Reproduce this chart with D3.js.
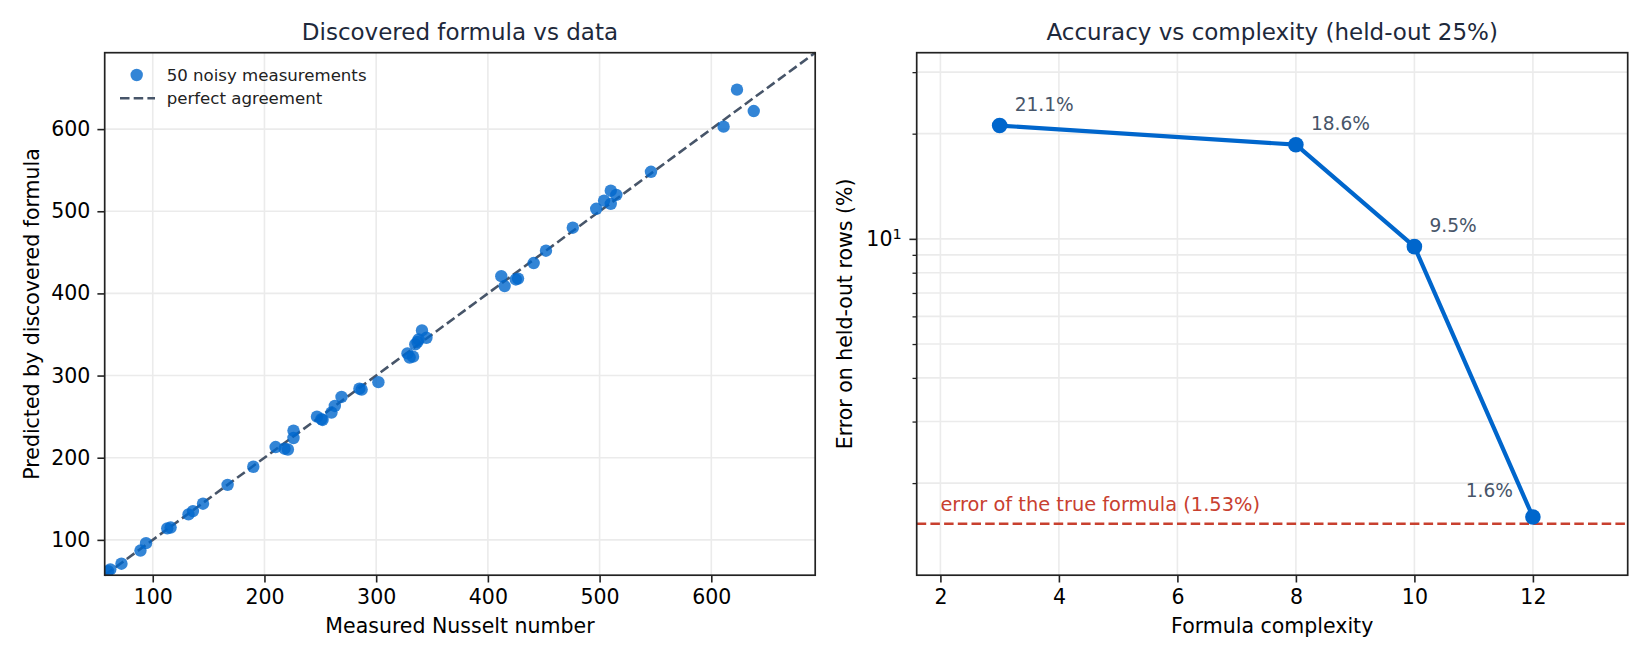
<!DOCTYPE html>
<html>
<head>
<meta charset="utf-8">
<script src="https://cdn.jsdelivr.net/npm/d3@7"></script>
<style>
  body { margin: 0; background: #fff; }
  text { font-family: "DejaVu Sans", sans-serif; }
</style>
</head>
<body>
<div id="chart"></div>
<script>
// left panel: measured vs predicted Nusselt number
var measured = [60, 62, 72, 89, 94, 113, 116, 132, 136, 145, 167, 190, 210, 218, 221, 226, 226,
  247, 251, 252, 260, 263, 269, 285, 287, 302, 328, 330, 333, 335, 337, 338, 341, 345,
  412, 415, 425, 427, 441, 452, 476, 497, 504, 510, 510, 515, 546, 611, 623, 638];
var predicted = [62, 64, 71, 87, 96, 114, 115, 131, 135, 144, 167, 189, 213, 211, 210, 233, 224,
  250, 247, 246, 255, 263, 274, 284, 283, 292, 327, 322, 323, 338, 341, 344, 355, 346,
  421, 409, 417, 418, 437, 452, 480, 503, 513, 525, 509, 520, 548, 603, 648, 622];
var scatterTicks = [100, 200, 300, 400, 500, 600];
var scatterRange = [57, 693];

// right panel: held-out error vs formula complexity
var complexity = [3, 8, 10, 12];
var heldOutError = [21.1, 18.6, 9.5, 1.6];
var trueError = 1.53;
var complexityTicks = [2, 4, 6, 8, 10, 12];
var complexityRange = [1.6, 13.6];
var errorRange = [1.09, 34.1];
var errorMinorTicks = [2, 3, 4, 5, 6, 7, 8, 9, 20, 30];

var W = 1650, H = 660;
var gridColor = "#ebebeb";
var spineColor = "#222";
var blue = "#0066cc";

var svg = d3.select("#chart").append("svg")
  .attr("width", W).attr("height", H);

function drawFrame(g, w, h) {
  g.append("rect")
    .attr("width", w).attr("height", h)
    .attr("fill", "none")
    .attr("stroke", spineColor)
    .attr("stroke-width", 1.7);
}

function styleAxis(ax) {
  ax.select(".domain").remove();
  ax.selectAll(".tick line").attr("stroke", spineColor).attr("stroke-width", 1.6);
  ax.selectAll(".tick text")
    .attr("fill", "#000")
    .style("font-size", "20.5px")
    .style("font-family", "DejaVu Sans, sans-serif");
}

function panelTitle(g, w, txt) {
  g.append("text")
    .attr("x", w / 2).attr("y", -12.5)
    .attr("text-anchor", "middle")
    .attr("fill", "#1e293b")
    .style("font-size", "23px")
    .text(txt);
}

function axisLabels(g, w, h, xl, yl, yoff) {
  g.append("text")
    .attr("x", w / 2).attr("y", h + 58)
    .attr("text-anchor", "middle")
    .attr("fill", "#000")
    .style("font-size", "20.5px")
    .text(xl);
  g.append("text")
    .attr("transform", "translate(" + yoff + "," + (h / 2) + ") rotate(-90)")
    .attr("text-anchor", "middle")
    .attr("fill", "#000")
    .style("font-size", "20.5px")
    .text(yl);
}

// ---------- left panel ----------
var L = {left: 104.7, top: 52.7, width: 710.5, height: 522.5};
var gl = svg.append("g").attr("transform", "translate(" + L.left + "," + L.top + ")");

var x1 = d3.scaleLinear().domain(scatterRange).range([0, L.width]);
var y1 = d3.scaleLinear().domain(scatterRange).range([L.height, 0]);

gl.selectAll(".vgrid").data(scatterTicks).enter().append("line")
  .attr("x1", function(d) { return x1(d); }).attr("x2", function(d) { return x1(d); })
  .attr("y1", 0).attr("y2", L.height)
  .attr("stroke", gridColor).attr("stroke-width", 1.6);
gl.selectAll(".hgrid").data(scatterTicks).enter().append("line")
  .attr("y1", function(d) { return y1(d); }).attr("y2", function(d) { return y1(d); })
  .attr("x1", 0).attr("x2", L.width)
  .attr("stroke", gridColor).attr("stroke-width", 1.6);

gl.append("line")
  .attr("x1", x1(scatterRange[0])).attr("y1", y1(scatterRange[0]))
  .attr("x2", x1(scatterRange[1])).attr("y2", y1(scatterRange[1]))
  .attr("stroke", "#475569").attr("stroke-width", 2.6)
  .attr("stroke-dasharray", "9.5,4.2");

var clip = svg.append("defs").append("clipPath").attr("id", "clipL");
clip.append("rect").attr("width", L.width).attr("height", L.height);

gl.append("g").attr("clip-path", "url(#clipL)")
  .selectAll("circle").data(measured).enter().append("circle")
  .attr("cx", function(d) { return x1(d); })
  .attr("cy", function(d, i) { return y1(predicted[i]); })
  .attr("r", 6.2)
  .attr("fill", blue).attr("fill-opacity", 0.8);

var xa1 = gl.append("g").attr("transform", "translate(0," + L.height + ")")
  .call(d3.axisBottom(x1).tickValues(scatterTicks).tickSize(7.3).tickPadding(7));
styleAxis(xa1);
var ya1 = gl.append("g")
  .call(d3.axisLeft(y1).tickValues(scatterTicks).tickSize(7.3).tickPadding(7));
styleAxis(ya1);
drawFrame(gl, L.width, L.height);

panelTitle(gl, L.width, "Discovered formula vs data");
axisLabels(gl, L.width, L.height, "Measured Nusselt number", "Predicted by discovered formula", -66);

// legend
var leg = gl.append("g").attr("transform", "translate(0,0)");
leg.append("circle").attr("cx", 32).attr("cy", 22.3).attr("r", 6.2)
  .attr("fill", blue).attr("fill-opacity", 0.8);
leg.append("text").attr("x", 62).attr("y", 28).attr("fill", "#222")
  .style("font-size", "16.6px").text("50 noisy measurements");
leg.append("line").attr("x1", 15.3).attr("x2", 50.3).attr("y1", 45.6).attr("y2", 45.6)
  .attr("stroke", "#475569").attr("stroke-width", 2.6).attr("stroke-dasharray", "9.5,4.2");
leg.append("text").attr("x", 62).attr("y", 51).attr("fill", "#222")
  .style("font-size", "16.6px").text("perfect agreement");

// ---------- right panel ----------
var R = {left: 916.7, top: 52.7, width: 711, height: 522.5};
var gr = svg.append("g").attr("transform", "translate(" + R.left + "," + R.top + ")");

var x2 = d3.scaleLinear().domain(complexityRange).range([0, R.width]);
var y2 = d3.scaleLog().domain(errorRange).range([R.height, 0]);

gr.selectAll(".vgrid").data(complexityTicks).enter().append("line")
  .attr("x1", function(d) { return x2(d); }).attr("x2", function(d) { return x2(d); })
  .attr("y1", 0).attr("y2", R.height)
  .attr("stroke", gridColor).attr("stroke-width", 1.6);
gr.selectAll(".hgrid").data(errorMinorTicks.concat([10])).enter().append("line")
  .attr("y1", function(d) { return y2(d); }).attr("y2", function(d) { return y2(d); })
  .attr("x1", 0).attr("x2", R.width)
  .attr("stroke", gridColor).attr("stroke-width", 1.6);

// true formula reference line
gr.append("line")
  .attr("x1", 0).attr("x2", R.width)
  .attr("y1", y2(trueError)).attr("y2", y2(trueError))
  .attr("stroke", "#c8402f").attr("stroke-width", 2.6)
  .attr("stroke-dasharray", "9.5,4.2");
gr.append("text")
  .attr("x", x2(2)).attr("y", y2(trueError) - 12.5)
  .attr("fill", "#c8402f")
  .style("font-size", "19.4px")
  .text("error of the true formula (" + trueError.toFixed(2) + "%)");

var line = d3.line()
  .x(function(d) { return x2(d); })
  .y(function(d, i) { return y2(heldOutError[i]); });
gr.append("path").datum(complexity)
  .attr("d", line)
  .attr("fill", "none")
  .attr("stroke", blue).attr("stroke-width", 4.2)
  .attr("stroke-linejoin", "round");
gr.selectAll(".pt").data(complexity).enter().append("circle")
  .attr("cx", function(d) { return x2(d); })
  .attr("cy", function(d, i) { return y2(heldOutError[i]); })
  .attr("r", 7.8)
  .attr("fill", blue);

gr.selectAll(".lbl").data(complexity).enter().append("text")
  .attr("x", function(d, i) { return x2(d) + (i === complexity.length - 1 ? -20 : 15); })
  .attr("y", function(d, i) { return y2(heldOutError[i]) + (i === complexity.length - 1 ? -20 : -15); })
  .attr("text-anchor", function(d, i) { return i === complexity.length - 1 ? "end" : "start"; })
  .attr("fill", "#475569")
  .style("font-size", "18.6px")
  .text(function(d, i) { return heldOutError[i].toFixed(1) + "%"; });

var xa2 = gr.append("g").attr("transform", "translate(0," + R.height + ")")
  .call(d3.axisBottom(x2).tickValues(complexityTicks).tickSize(7.3).tickPadding(7));
styleAxis(xa2);

var ya2 = gr.append("g")
  .call(d3.axisLeft(y2).tickValues([10]).tickSize(7.3).tickPadding(7).tickFormat(""));
styleAxis(ya2);
ya2.selectAll(".tick").append("text")
  .attr("x", -15).attr("dy", "0.32em")
  .attr("text-anchor", "end")
  .attr("fill", "#000")
  .style("font-size", "20.5px")
  .html('10<tspan dy="-0.45em" font-size="14.5px">1</tspan>');
var minorAxis = gr.append("g")
  .call(d3.axisLeft(y2).tickValues(errorMinorTicks).tickSize(4.2).tickFormat(""));
minorAxis.select(".domain").remove();
minorAxis.selectAll(".tick line").attr("stroke", spineColor).attr("stroke-width", 1.3);

drawFrame(gr, R.width, R.height);
panelTitle(gr, R.width, "Accuracy vs complexity (held-out 25%)");
axisLabels(gr, R.width, R.height, "Formula complexity", "Error on held-out rows (%)", -65);
</script>
</body>
</html>
